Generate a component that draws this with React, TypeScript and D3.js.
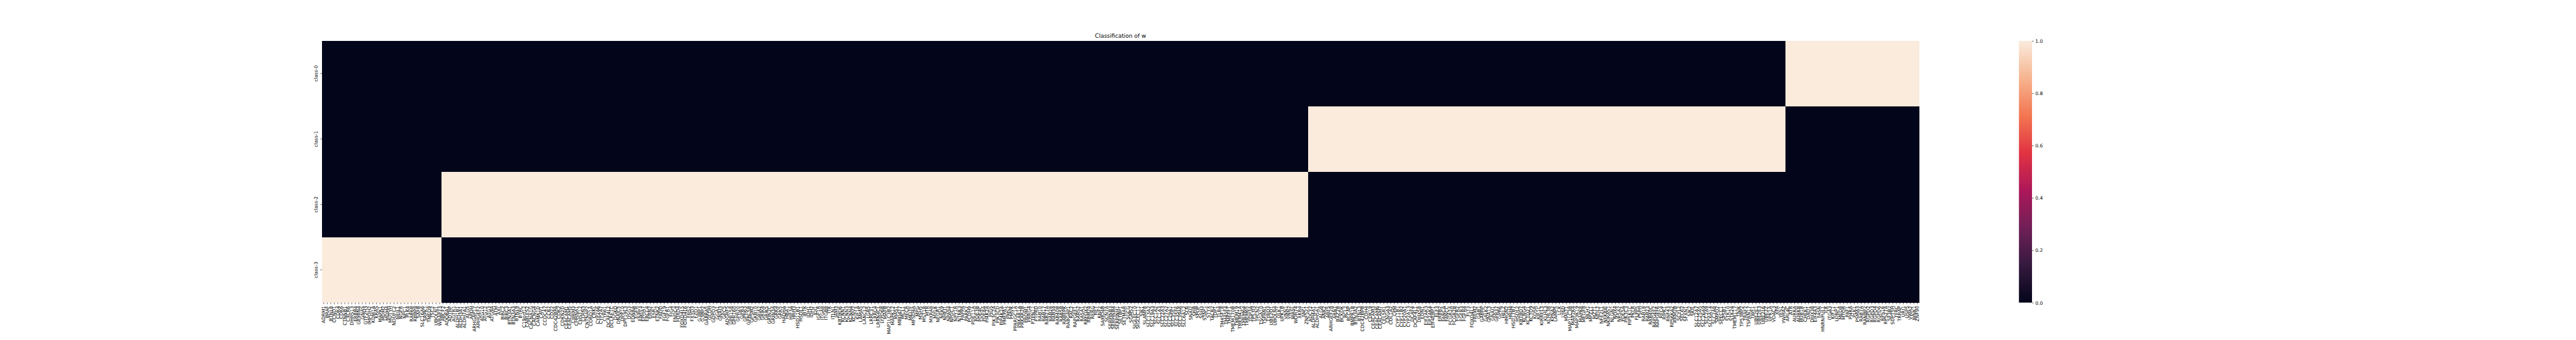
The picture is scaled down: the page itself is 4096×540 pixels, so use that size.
import React, { useEffect, useRef } from 'react';
import * as d3 from 'd3';

const W = 4096;
const H = 540;

const classNames = ['class-0', 'class-1', 'class-2', 'class-3'];

// genes by the class they were put in, in column order (class-3 first)
const class3Genes = [
  'ADRM1', 'BRAF', 'BTNL8', 'CCND1', 'CDK4', 'CDK6', 'CTNNB1', 'CXCR6', 'DHRS13', 'ERBB4',
  'GEMIN4', 'GNAS', 'GTF2H3', 'IMPDH2', 'KDM1A', 'KRAS', 'MAPK1', 'MDM2', 'MDM4', 'MUTYH',
  'NDUFC2', 'NEIL1', 'NGFR', 'NPC1', 'PLK4', 'RAB6B', 'RBBP8', 'SAFB', 'SLC16A6', 'SRPK1',
  'TMED9', 'TSC2', 'UBQLN1', 'WRAP73',
];

const class2Genes = [
  'ABCF2', 'ADORA1', 'ADTRP', 'AGTR1', 'ALDH1B1', 'ALDH3A1', 'ALDH7A1', 'ALG5', 'APOH', 'ARHGAP17',
  'ARHGEF2', 'ATG10', 'ATG12', 'ATG3', 'ATG9A', 'ATM', 'AXL', 'BIRC2', 'BIRC3', 'BTN3A1',
  'BTN3A3', 'BTNL9', 'BTRC', 'C19orf12', 'CABLES2', 'CACNA1G', 'CACNG4', 'CAMK1D', 'CAV1', 'CCDC47',
  'CCR7', 'CD22', 'CDC42BPA', 'CDK2', 'CDKN2D', 'CEACAM1', 'CEACAM5', 'CHRM3', 'CHRNA1', 'CHST12',
  'CLRN3', 'CNTNAP2', 'CORO1A', 'CRKL', 'CYP2A6', 'CYP2A7', 'CYR61', 'DCAF4L2', 'DCLRE1C', 'DGKQ',
  'DNAJC5', 'DPP10', 'DPY19L3', 'DSG3', 'EDNRA', 'EGFR', 'ENPP3', 'EPHA7', 'ERCC4', 'ERN2',
  'ESR1', 'ETNK2', 'FADD', 'FGF19', 'FGFR1', 'FIG4', 'FNDC4', 'FOXD4', 'FOXD4L5', 'FOXD4L6',
  'FRS2', 'FXYD3', 'FZD1', 'G3BP1', 'G3BP2', 'GABRA5', 'GCDH', 'GDPD3', 'GGA1', 'GNAI3',
  'GPC5', 'ADGRF5', 'GPR158', 'GPR160', 'GPR20', 'GPR3', 'GPR63', 'GPRC5B', 'GPSM2', 'GRB10',
  'GRIA2', 'GRIK4', 'GRIK5', 'GRIN2C', 'GRIN3A', 'GRK4', 'GRK5', 'HADHA', 'HBA1', 'HIF3A',
  'HRH3', 'HSD11B1', 'HSDL1', 'IBTK', 'IDH1', 'IDH2', 'IDI1', 'IGF1R', 'ITGA8', 'ITGB8',
  'ITK', 'ITLN1', 'JAM3', 'KBTBD6', 'KCNN1', 'KCNN3', 'KCNN4', 'KCNV2', 'KIF1A', 'LAMA5',
  'LANCL2', 'LGR5', 'LRRC31', 'LRRC4', 'LRRN4CL', 'LYPD6B', 'MAFB', 'MAP1LC3B2', 'MAPK12', 'MAS1',
  'MBOAT7', 'MCL1', 'MECR', 'MELTF', 'MFSD4A', 'MPG', 'MSH5', 'MST1R', 'MTR', 'MXRA8',
  'MYLK', 'NEGR1', 'NEK9', 'NHEJ1', 'NPAS4', 'NPDC1', 'NPY1R', 'NTRK3', 'PAPPA', 'PARK7',
  'PCDH9', 'PDE11A', 'PDE3B', 'PDE4C', 'PDE8A', 'PI4K2A', 'PIGS', 'PIK3C2A', 'PIK3CD', 'PIP4K2A',
  'PMEPA1', 'PMS2', 'PMVK', 'PPARGC1A', 'PRKAR1A', 'PRKAR2B', 'PROM1', 'PRRG4', 'PTPN11', 'PTPRD',
  'RAB10', 'RAB17', 'RAB27A', 'RAB28', 'RAB34', 'RAB40B', 'RAB5B', 'RABEPK', 'RABGAP1', 'RAC2',
  'RAPGEF1', 'RARS2', 'RASA1', 'RBFOX2', 'RBM24', 'RERG', 'RET', 'RNF2', 'SAMD4B', 'SCN7A',
  'SERPINB3', 'SERPINB4', 'SERPINH1', 'SETBP1', 'SETMAR', 'SGCG', 'SGMS2', 'SIGLEC10', 'SIGLEC11', 'SIK1',
  'SLAMF8', 'SLC13A2', 'SLC19A3', 'SLC1A2', 'SLC1A3', 'SLC22A3', 'SLC27A2', 'SLC29A1', 'SLC35E1', 'SLC35F6',
  'SLC39A6', 'SLC6A12', 'SLN', 'SNAI2', 'SPIB', 'SPOP', 'SSH3', 'STAP1', 'STYX', 'TACR2',
  'TDP1', 'TLR4', 'TM4SF18', 'TM4SF4', 'TMEFF1', 'TMEM170B', 'TMEM19', 'TMEM41A', 'TMEM64', 'TMEM65',
  'TOP3A', 'TP53I3', 'TPCN2', 'TSGA10', 'TSPAN1', 'TYRO3', 'UBE2Q1', 'UBQLN4', 'ULK1', 'UPK1B',
  'VNN1', 'VNN2', 'WASL', 'WDR74', 'XKR4', 'YAP1', 'ZNF521',
];

const class1Genes = [
  'ADCY2', 'ALDH4A1', 'ALDH5A1', 'ALG8', 'ANK2', 'ARF5', 'ARHGEF28', 'ARNT', 'BAZ2B', 'BCKDK',
  'BCL2', 'BLCAP', 'BMPR1B', 'BTN3A2', 'BTNL3', 'CDC42BPB', 'CDH4', 'CDK19', 'CEACAM3', 'CEACAM6',
  'CEACAM7', 'CELSR1', 'CNGA3', 'COL1A2', 'CPM', 'CYP11B1', 'CYP11B2', 'CYP20A1', 'CYP2A13', 'DCAF4',
  'DCAF4L1', 'DHX58', 'EDN1', 'EIF2AK3', 'EIF2AK4', 'EIF4EBP1', 'ELF3', 'ERBB2', 'FANCA', 'FANCC',
  'FCGR2A', 'FCGR2B', 'FGFR2', 'FGFR3', 'FGFR4', 'FLT3', 'FOXD4L1', 'FREM2', 'GAB1', 'GABRP',
  'GALK2', 'GNA13', 'GNAI1', 'GPR37', 'GPR6', 'HELZ', 'HMGN2', 'HRH4', 'HSD17B7', 'HSDL2',
  'KBTBD7', 'KCNG4', 'KCTD21', 'KCTD9', 'KDSR', 'KIF1C', 'KIRREL3', 'KLHL3', 'KLHL38', 'KPNA2',
  'LAMP5', 'LCK', 'LY6D', 'MALT1', 'MAP1LC3B', 'MAP2K4', 'MAP3K19', 'MAPK8', 'MEGF8', 'MLH1',
  'MPZL1', 'MZT1', 'NEIL2', 'NFE2L1', 'NFKBIE', 'NKIRAS1', 'NLGN1', 'NOX4', 'NR5A2', 'PDE5A',
  'PIK3C3', 'PIP5K1C', 'PKLR', 'PLPP5', 'PSPH', 'RAB18', 'RAB23', 'RAB40C', 'RAPGEF2', 'RAPGEF6',
  'RFC4', 'RIPK1', 'RNF43', 'RPS6KA2', 'RRM2B', 'SCYL2', 'SEC62', 'SFXN1', 'SIK2', 'SKIL',
  'SLC12A7', 'SLC25A5', 'SLC26A9', 'SLC2A9', 'SLC6A14', 'SLC7A8', 'SMPD2', 'SPECC1', 'SPSB1', 'STK10',
  'STK24', 'TMEM117', 'TNIK', 'TP53BP2', 'TRAF7', 'TSPAN17', 'TWF1', 'UBE2E1', 'UBE2E3', 'UBE2L6',
  'UBE2Z', 'UPK1A', 'VDAC3', 'XPA', 'YES1', 'YWHAZ',
];

const class0Genes = [
  'ARL4C', 'ATR', 'AURKA', 'AURKB', 'BUB1B', 'CHEK1', 'DAD1', 'DHX38', 'EIF4A3', 'FASN',
  'HNRNPUL1', 'ILK', 'ITGA3', 'KIF11', 'LONP1', 'MED8', 'MTOR', 'PAF1', 'PI4KA', 'PLK1',
  'PSMA3', 'RAB7A', 'RANBP2', 'RGPD2', 'RGPD3', 'RGPD4', 'RGPD6', 'RPS16', 'RPS27A', 'SF3B2',
  'SUPT5H', 'TFRC', 'TRRAP', 'URI1', 'USP5', 'VWA2', 'WNK1', 'ZNF90',
];

const colorbarTicks = [0, 0.2, 0.4, 0.6, 0.8, 1.0];

// seaborn "rocket" colormap, sampled at 0, 1/7 ... 1
const rocketColors = ['#03051a', '#35193e', '#701f57', '#ad1759', '#e13342', '#f37651', '#f6b48f', '#faebdd'];

export default function App() {
  const ref = useRef<SVGSVGElement>(null);

  useEffect(() => {
    const svg = d3.select(ref.current);
    svg.selectAll('*').remove();

    const pt = 54 / 72; // figure is 100 dpi, drawn at 0.54
    const left = 0.125 * W;
    const axRight = 0.9 * W;
    const top = (1 - 0.88) * H;
    const bottom = (1 - 0.11) * H;
    // colorbar takes room on the right of the heatmap axes
    const hmRight = left + (axRight - left) * 0.8;
    const cbLeft = left + (axRight - left) * 0.85;
    const cbWidth = (bottom - top) / 20;
    const tickLen = 3.5 * pt;
    const tickPad = 3.5 * pt;
    const fs = 10 * pt;
    const font = 'DejaVu Sans';

    const columns = [
      ...class3Genes.map(g => ({ gene: g, cls: 'class-3' })),
      ...class2Genes.map(g => ({ gene: g, cls: 'class-2' })),
      ...class1Genes.map(g => ({ gene: g, cls: 'class-1' })),
      ...class0Genes.map(g => ({ gene: g, cls: 'class-0' })),
    ];

    const x = d3.scaleBand<number>().domain(columns.map((_, i) => i)).range([left, hmRight]);
    const y = d3.scaleBand<string>().domain(classNames).range([top, bottom]);
    const stops = rocketColors.map((_, i) => i / (rocketColors.length - 1));
    const color = d3.scaleLinear<string>().domain(stops).range(rocketColors).interpolate(d3.interpolateRgb);

    const cells: { row: string; i: number; v: number }[] = [];
    classNames.forEach(c => {
      columns.forEach((col, i) => cells.push({ row: c, i, v: col.cls === c ? 1 : 0 }));
    });

    svg.append('g')
      .attr('shape-rendering', 'crispEdges')
      .selectAll('rect')
      .data(cells)
      .join('rect')
      .attr('x', d => x(d.i))
      .attr('y', d => y(d.row))
      .attr('width', x.bandwidth())
      .attr('height', y.bandwidth())
      .attr('fill', d => color(d.v));

    // x axis: gene names
    const gx = svg.append('g')
      .attr('transform', `translate(0,${bottom})`)
      .call(d3.axisBottom(x).tickSize(tickLen).tickPadding(tickPad).tickFormat(i => columns[i as number].gene));
    gx.select('.domain').remove();
    gx.attr('font-family', font).attr('font-size', fs);
    gx.selectAll('line').attr('stroke', '#000').attr('stroke-width', 0.8 * pt);
    gx.selectAll('text')
      .attr('fill', '#000')
      .attr('transform', 'rotate(-90)')
      .attr('x', -(tickLen + tickPad))
      .attr('y', 0)
      .attr('dy', '0.35em')
      .attr('text-anchor', 'end');

    // y axis: classes
    const gy = svg.append('g')
      .attr('transform', `translate(${left},0)`)
      .call(d3.axisLeft(y).tickSize(tickLen).tickPadding(tickPad));
    gy.select('.domain').remove();
    gy.attr('font-family', font).attr('font-size', fs);
    gy.selectAll('line').attr('stroke', '#000').attr('stroke-width', 0.8 * pt);
    gy.selectAll('text')
      .attr('fill', '#000')
      .attr('x', null)
      .attr('transform', `translate(${-(tickLen + tickPad)},0) rotate(-90)`)
      .attr('text-anchor', 'middle')
      .attr('dy', '-0.24em');

    // colorbar
    const grad = svg.append('defs').append('linearGradient')
      .attr('id', 'rocket')
      .attr('x1', 0).attr('y1', 1).attr('x2', 0).attr('y2', 0);
    rocketColors.forEach((c, i) => grad.append('stop').attr('offset', stops[i]).attr('stop-color', c));

    const cbY = d3.scaleLinear().domain([0, 1]).range([bottom, top]);
    svg.append('rect')
      .attr('x', cbLeft)
      .attr('y', cbY(1))
      .attr('width', cbWidth)
      .attr('height', cbY(0) - cbY(1))
      .attr('fill', 'url(#rocket)');

    const gc = svg.append('g')
      .attr('transform', `translate(${cbLeft + cbWidth},0)`)
      .call(d3.axisRight(cbY).tickValues(colorbarTicks).tickFormat(d3.format('.1f')).tickSize(tickLen).tickPadding(tickPad));
    gc.select('.domain').remove();
    gc.attr('font-family', font).attr('font-size', fs);
    gc.selectAll('line').attr('stroke', '#000').attr('stroke-width', 0.8 * pt);
    gc.selectAll('text').attr('fill', '#000');

    svg.append('text')
      .attr('x', (left + hmRight) / 2)
      .attr('y', top - 6 * pt)
      .attr('text-anchor', 'middle')
      .attr('font-family', font)
      .attr('font-size', 12 * pt)
      .attr('fill', '#000')
      .text('Classification of w');
  }, []);

  return (
    <svg
      ref={ref}
      width={W}
      height={H}
      style={{ position: 'absolute', left: 0, top: 0, background: '#fff' }}
    />
  );
}
